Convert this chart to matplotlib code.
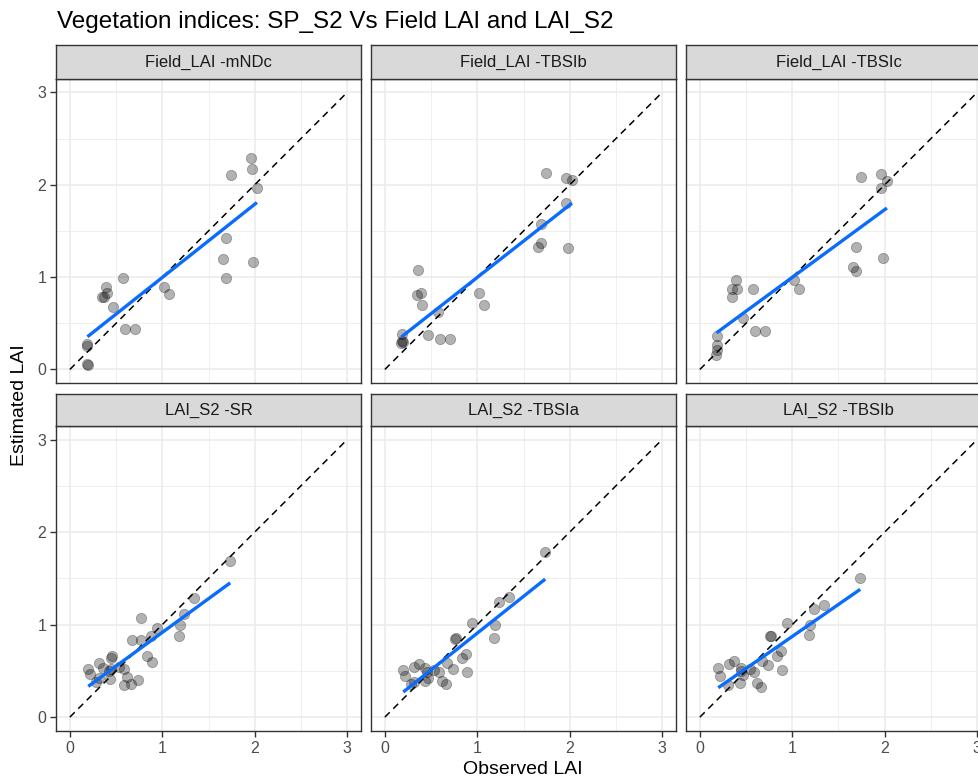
import numpy as np
import matplotlib
matplotlib.use("Agg")
import matplotlib.pyplot as plt

plt.rcParams["font.family"] = ["Liberation Sans", "DejaVu Sans"]

# Observed / estimated LAI
field_obs_mndc = [1.955, 1.966, 1.742, 2.024, 1.688, 1.662, 1.980, 1.688, 0.575, 0.390, 0.405,
                  0.351, 0.370, 1.023, 1.073, 0.470, 0.593, 0.701, 0.190, 0.190, 0.190, 0.195]
field_est_mndc = [2.289, 2.166, 2.101, 1.964, 1.426, 1.191, 1.166, 0.993, 0.989, 0.888, 0.823,
                  0.780, 0.790, 0.888, 0.819, 0.671, 0.433, 0.437, 0.280, 0.256, 0.058, 0.050]

field_obs_tbsib = [1.742, 1.962, 2.024, 1.955, 1.688, 1.688, 1.662, 1.980, 0.354, 0.390, 0.343,
                   1.023, 0.405, 1.073, 0.578, 0.190, 0.470, 0.190, 0.180, 0.593, 0.701, 0.195]
field_est_tbsib = [2.126, 2.072, 2.047, 1.805, 1.574, 1.368, 1.329, 1.310, 1.076, 0.823, 0.801,
                   0.823, 0.697, 0.697, 0.617, 0.383, 0.372, 0.307, 0.282, 0.325, 0.325, 0.295]

field_obs_tbsic = [1.742, 1.962, 2.024, 1.955, 1.688, 1.662, 1.688, 1.980, 0.390, 0.351, 0.405,
                   0.343, 0.575, 1.023, 1.073, 0.470, 0.593, 0.701, 0.190, 0.190, 0.190, 0.180]
field_est_tbsic = [2.079, 2.112, 2.040, 1.964, 1.329, 1.112, 1.069, 1.206, 0.964, 0.874, 0.874,
                   0.783, 0.874, 0.964, 0.870, 0.556, 0.419, 0.415, 0.361, 0.264, 0.209, 0.155]

s2_obs_sr = [1.735, 1.348, 1.240, 1.193, 1.178, 0.947, 0.875, 0.766, 0.766, 0.676, 0.831, 0.889,
             0.452, 0.441, 0.318, 0.199, 0.217, 0.361, 0.440, 0.425, 0.531, 0.585, 0.622, 0.318,
             0.282, 0.434, 0.589, 0.658, 0.741]
s2_est_sr = [1.688, 1.290, 1.112, 1.000, 0.880, 0.967, 0.880, 1.076, 0.837, 0.830, 0.663, 0.601,
             0.659, 0.634, 0.580, 0.518, 0.471, 0.529, 0.515, 0.500, 0.543, 0.518, 0.438, 0.420,
             0.384, 0.409, 0.348, 0.355, 0.399]

s2_obs_tbsia = [1.735, 1.348, 1.240, 1.193, 1.178, 0.947, 0.759, 0.765, 0.875, 0.831, 0.889, 0.676,
                0.737, 0.369, 0.318, 0.199, 0.217, 0.434, 0.452, 0.535, 0.585, 0.622, 0.658, 0.282,
                0.318, 0.434, 0.470]
s2_est_tbsia = [1.790, 1.297, 1.243, 0.996, 0.859, 1.018, 0.844, 0.850, 0.681, 0.634, 0.493, 0.583,
                0.525, 0.572, 0.543, 0.511, 0.446, 0.529, 0.493, 0.507, 0.489, 0.391, 0.355, 0.355,
                0.384, 0.391, 0.428]

s2_obs_tbsib = [1.735, 1.348, 1.240, 1.193, 1.178, 0.947, 0.759, 0.765, 0.875, 0.831, 0.889, 0.676,
                0.737, 0.369, 0.318, 0.199, 0.217, 0.441, 0.542, 0.585, 0.622, 0.658, 0.300, 0.434,
                0.463, 0.440]
s2_est_tbsib = [1.507, 1.217, 1.170, 1.000, 0.891, 1.014, 0.873, 0.880, 0.710, 0.659, 0.507, 0.609,
                0.562, 0.609, 0.572, 0.529, 0.446, 0.536, 0.518, 0.493, 0.366, 0.330, 0.348, 0.366,
                0.457, 0.500]

panel_titles = ["Field_LAI -mNDc", "Field_LAI -TBSIb", "Field_LAI -TBSIc",
                "LAI_S2 -SR", "LAI_S2 -TBSIa", "LAI_S2 -TBSIb"]
panel_x = [field_obs_mndc, field_obs_tbsib, field_obs_tbsic, s2_obs_sr, s2_obs_tbsia, s2_obs_tbsib]
panel_y = [field_est_mndc, field_est_tbsib, field_est_tbsic, s2_est_sr, s2_est_tbsia, s2_est_tbsib]

W, H = 979, 781
fig = plt.figure(figsize=(W / 100, H / 100), dpi=100)
fig.patch.set_facecolor("white")

col_x = [(56, 361), (371, 676), (686, 991)]
row_plot = [(78.6, 383.3), (425.7, 731)]
row_strip = [(45.3, 78.6), (394, 425.7)]


def px_rect(x0, x1, y0, y1):
    return [x0 / W, 1 - y1 / H, (x1 - x0) / W, (y1 - y0) / H]


for i, title in enumerate(panel_titles):
    r, c = divmod(i, 3)
    x0, x1 = col_x[c]
    ax = fig.add_axes(px_rect(x0, x1, *row_plot[r]))
    ax.set_xlim(-0.15, 3.15)
    ax.set_ylim(-0.15, 3.15)
    ax.set_xticks([0, 1, 2, 3])
    ax.set_yticks([0, 1, 2, 3])
    ax.set_xticks([0.5, 1.5, 2.5], minor=True)
    ax.set_yticks([0.5, 1.5, 2.5], minor=True)
    ax.grid(which="major", color="#EBEBEB", linewidth=1.1)
    ax.grid(which="minor", color="#EBEBEB", linewidth=0.55)
    ax.set_axisbelow(True)
    for sp in ax.spines.values():
        sp.set_color("#333333")
        sp.set_linewidth(1.0)
    ax.tick_params(which="minor", length=0)
    ax.tick_params(which="major", length=4, width=1, color="#333333",
                   labelsize=11.5, labelcolor="#4D4D4D", pad=3)
    if r == 0:
        ax.tick_params(axis="x", which="major", length=0, labelbottom=False)
    if c != 0:
        ax.tick_params(axis="y", which="major", length=0, labelleft=False)

    x = np.array(panel_x[i])
    y = np.array(panel_y[i])
    ax.plot([0, 3], [0, 3], color="black", linestyle=(0, (4.5, 3.3)), linewidth=1.1, zorder=2)
    ax.scatter(x, y, s=55, c="black", alpha=0.3, edgecolors="black", linewidths=0.6, zorder=3)
    k, b = np.polyfit(x, y, 1)
    xs = np.array([x.min(), x.max()])
    ax.plot(xs, k * xs + b, color="#0A6CFF", linewidth=2.4, zorder=4, solid_capstyle="butt")

    sax = fig.add_axes(px_rect(x0, x1, *row_strip[r]))
    sax.set_facecolor("#D9D9D9")
    sax.set_xticks([])
    sax.set_yticks([])
    for sp in sax.spines.values():
        sp.set_color("#333333")
        sp.set_linewidth(1.0)
    sax.text(0.5, 0.48, title, ha="center", va="center", fontsize=12,
             color="#1A1A1A", transform=sax.transAxes)

fig.text(57 / W, 1 - 22 / H, "Vegetation indices: SP_S2 Vs Field LAI and LAI_S2",
         ha="left", va="center", fontsize=17.5, color="black")
fig.text(523 / W, 1 - 769 / H, "Observed LAI", ha="center", va="center", fontsize=14)
fig.text(20 / W, 1 - 405 / H, "Estimated LAI", ha="center", va="center", fontsize=14,
         rotation=90)

fig.savefig("out.png", dpi=100)
